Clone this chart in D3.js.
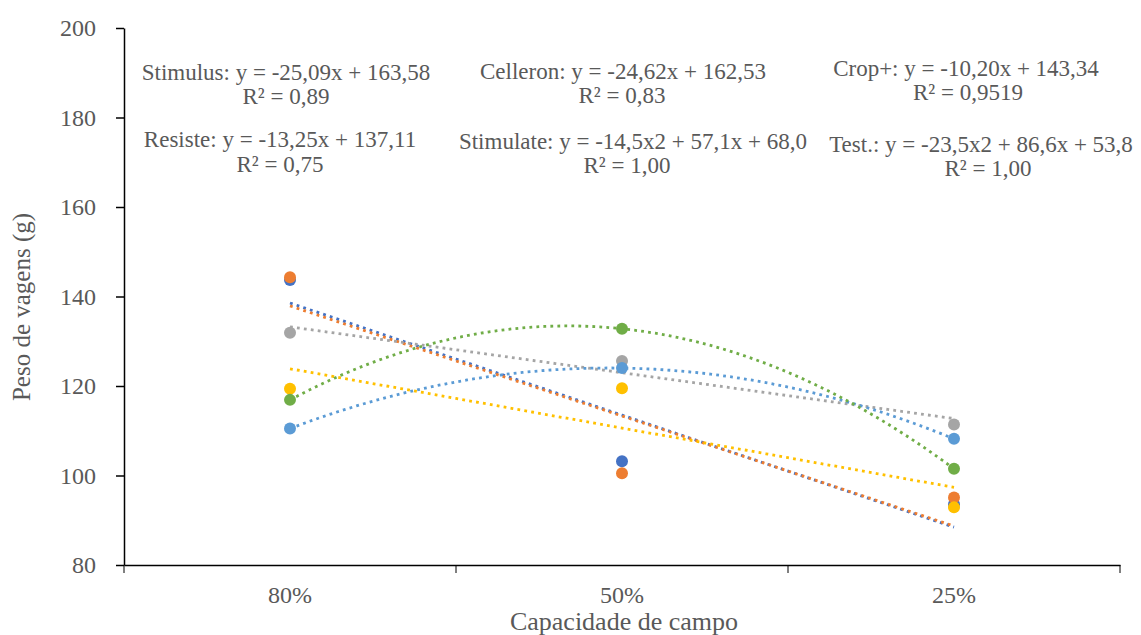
<!DOCTYPE html>
<html>
<head>
<meta charset="utf-8">
<script src="https://cdn.jsdelivr.net/npm/d3@7"></script>
<style>
	body { margin: 0; background: #ffffff; }
	svg text { font-family: "Times New Roman", "Liberation Serif", Tinos, "Noto Serif", "DejaVu Serif", FreeSerif, serif !important; fill: #595959; }
</style>
</head>
<body>
<script>
// カテゴリ(圃場容水量)
var categories = ["80%", "50%", "25%"];
// 系列名
var series_names = ["Stimulus", "Celleron", "Crop+", "Resiste", "Stimulate", "Test."];
// 系列ごとの値
var stimulus  = [143.7, 103.2, 93.6];
var celleron  = [144.3, 100.5, 95.1];
var crop_plus = [131.9, 125.6, 111.4];
var resiste   = [119.4, 119.5, 92.9];
var stimulate = [110.5, 124.0, 108.2];
var test      = [116.9, 132.8, 101.5];
// 近似曲線の次数(1 = 線形, 2 = 2次)
var trend_degree = [1, 1, 1, 1, 2, 2];
// 近似式ラベル
var equations = [
	"Stimulus: y = -25,09x + 163,58",
	"Celleron: y = -24,62x + 162,53",
	"Crop+: y = -10,20x + 143,34",
	"Resiste: y = -13,25x + 137,11",
	"Stimulate: y = -14,5x2 + 57,1x + 68,0",
	"Test.: y = -23,5x2 + 86,6x + 53,8"
];
var r2_labels = ["R² = 0,89", "R² = 0,83", "R² = 0,9519", "R² = 0,75", "R² = 1,00", "R² = 1,00"];
// 軸目盛り
var y_ticks = [80, 100, 120, 140, 160, 180, 200];
var y_title = "Peso de vagens (g)";
var x_title = "Capacidade de campo";

var series_values = [stimulus, celleron, crop_plus, resiste, stimulate, test];

// 固定値
var width = 1141;
var height = 635;
var font = "'Times New Roman', 'Liberation Serif', Tinos, 'DejaVu Serif', serif";
var colors = ["#4472C4", "#ED7D31", "#A5A5A5", "#FFC000", "#5B9BD5", "#70AD47"];
var plot = { left: 124, right: 1120, top: 28, bottom: 565 };
// ラベル位置 [式の中心x, 式のベースライン, R²の中心x, R²のベースライン]
var label_pos = [
	[286, 80, 286, 104],
	[623, 79, 622, 103],
	[966, 76, 968, 100],
	[280, 147, 280, 172],
	[633, 149, 627, 173],
	[981, 152, 988, 176]
];

// 最小二乗法による多項式近似(係数を低次から返す)
function polyfit(xs, ys, deg){
	var n = deg + 1;
	var m = [];
	for(var i=0; i<n; i++){
		m.push([]);
		for(var j=0; j<n; j++){
			m[i].push(d3.sum(xs, function(x){ return Math.pow(x, i + j); }));
		}
		m[i].push(d3.sum(xs, function(x, k){ return ys[k] * Math.pow(x, i); }));
	}
	// ガウスの消去法
	for(var c=0; c<n; c++){
		for(var r=c+1; r<n; r++){
			var f = m[r][c] / m[c][c];
			for(var k=c; k<=n; k++){ m[r][k] -= f * m[c][k]; }
		}
	}
	var coef = new Array(n).fill(0);
	for(var r2=n-1; r2>=0; r2--){
		var s = m[r2][n];
		for(var k2=r2+1; k2<n; k2++){ s -= m[r2][k2] * coef[k2]; }
		coef[r2] = s / m[r2][r2];
	}
	return coef;
}

var svg = d3.select("body")
	.append("svg")
	.attr("width", width)
	.attr("height", height)
	.attr("font-family", font);

// スケール
var x = d3.scaleBand()
	.domain(categories)
	.range([plot.left, plot.right])
	.paddingInner(0)
	.paddingOuter(0);
var y = d3.scaleLinear()
	.domain([d3.min(y_ticks), d3.max(y_ticks)])
	.range([plot.bottom, plot.top]);
// 近似曲線用(1,2,3 -> カテゴリ中心)
var xi = d3.scaleLinear()
	.domain([1, categories.length])
	.range([x(categories[0]) + x.bandwidth() / 2, x(categories[categories.length - 1]) + x.bandwidth() / 2]);

// Y軸
var y_axis = svg.append("g")
	.attr("transform", "translate(" + plot.left + ",0)")
	.call(d3.axisLeft(y).tickValues(y_ticks).tickSize(8).tickSizeOuter(0).tickPadding(20))
	.attr("font-family", font);
y_axis.selectAll("text")
	.style("font-size", "24px")
	.attr("fill", "#595959");

// X軸(ラベル)
var x_axis = svg.append("g")
	.attr("transform", "translate(0," + plot.bottom + ")")
	.call(d3.axisBottom(x).tickSize(0).tickSizeOuter(0).tickPadding(21))
	.attr("font-family", font);
x_axis.selectAll("text")
	.style("font-size", "24px")
	.attr("fill", "#595959");
// X軸の区切り目盛り
var x_bounds = categories.map(function(c){ return x(c); }).concat([plot.right]);
x_axis.selectAll(".bound")
	.data(x_bounds)
	.enter()
	.append("line")
	.attr("class", "bound")
	.attr("x1", function(d){ return d; })
	.attr("x2", function(d){ return d; })
	.attr("y1", 0)
	.attr("y2", 8)
	.attr("stroke", "#000");

svg.selectAll(".domain, .tick line")
	.attr("stroke", "#000")
	.attr("stroke-width", 1.5);

// 軸タイトル
svg.append("text")
	.attr("transform", "translate(30," + 307 + ") rotate(-90)")
	.attr("text-anchor", "middle")
	.style("font-size", "25px")
	.text(y_title);
svg.append("text")
	.attr("x", 624)
	.attr("y", 630)
	.attr("text-anchor", "middle")
	.style("font-size", "26px")
	.text(x_title);

// 近似曲線
var idx = d3.range(1, categories.length + 1);
var line = d3.line()
	.x(function(d){ return xi(d[0]); })
	.y(function(d){ return y(d[1]); });

series_values.forEach(function(vals, s){
	var coef = polyfit(idx, vals, trend_degree[s]);
	var pts = d3.range(0, 61).map(function(k){
		var t = 1 + (categories.length - 1) * k / 60;
		var v = 0;
		coef.forEach(function(c, p){ v += c * Math.pow(t, p); });
		return [t, v];
	});
	svg.append("path")
		.datum(pts)
		.attr("d", line)
		.attr("fill", "none")
		.attr("stroke", colors[s])
		.attr("stroke-width", 2.8)
		.attr("stroke-dasharray", "2.8 4.2");
});

// マーカー
series_values.forEach(function(vals, s){
	svg.selectAll(".pt" + s)
		.data(vals)
		.enter()
		.append("circle")
		.attr("class", "pt" + s)
		.attr("cx", function(d, i){ return x(categories[i]) + x.bandwidth() / 2; })
		.attr("cy", function(d){ return y(d); })
		.attr("r", 6)
		.attr("fill", colors[s]);
});

// 近似式ラベル
equations.forEach(function(eq, s){
	var p = label_pos[s];
	svg.append("text")
		.attr("x", p[0])
		.attr("y", p[1])
		.attr("text-anchor", "middle")
		.style("font-size", "23px")
		.text(eq);
	svg.append("text")
		.attr("x", p[2])
		.attr("y", p[3])
		.attr("text-anchor", "middle")
		.style("font-size", "23px")
		.text(r2_labels[s]);
});
</script>
</body>
</html>
